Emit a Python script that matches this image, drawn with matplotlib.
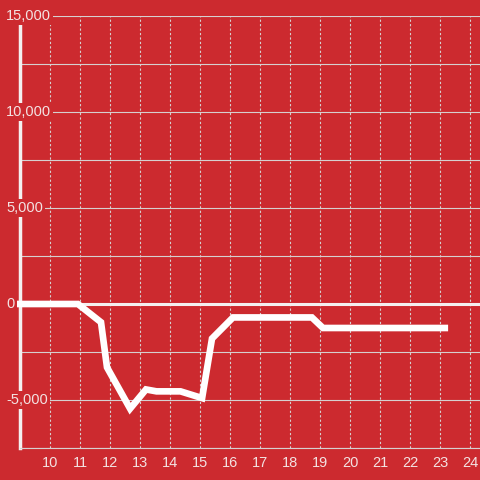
import matplotlib
matplotlib.use("Agg")
import matplotlib.pyplot as plt

# hour of day vs running balance
hours = [8.9, 10.93, 11.7, 11.9, 12.67, 13.2, 13.55, 14.35, 15.07, 15.4, 16.1, 18.73, 19.1, 23.27]
balance = [0, 0, -950, -3300, -5450, -4450, -4550, -4550, -4900, -1800, -700, -700, -1250, -1250]

x_ticks = list(range(10, 25))
y_ticks = [-5000, 0, 5000, 10000, 15000]
y_grid = [-7500, -5000, -2500, 0, 2500, 5000, 7500, 10000, 12500, 15000]

bg = "#cc2a2f"
txt = "#f3e2e2"
grid_c = "#d6d0d0"

plt.rcParams["font.family"] = ["Liberation Sans", "DejaVu Sans"]

fig = plt.figure(figsize=(4.8, 4.8), dpi=100)
fig.patch.set_facecolor(bg)
ax = fig.add_axes([20 / 480, 32 / 480, 460 / 480, 432 / 480])
ax.set_facecolor(bg)

ax.set_xlim(9, 24.333)
ax.set_ylim(-7500, 15000)

ax.set_xticks(x_ticks)
ax.set_xticklabels([str(t) for t in x_ticks])
ax.set_yticks(y_grid)
ax.set_yticklabels([])
ax.tick_params(axis="both", length=0, colors=txt, labelsize=10.5)
ax.tick_params(axis="x", pad=6)

ax.grid(axis="y", color=grid_c, lw=0.8, zorder=1)
ax.grid(axis="x", color=grid_c, lw=0.8, ls=(0, (2, 2)), zorder=1)
ax.set_axisbelow(True)

for s in ["top", "right"]:
    ax.spines[s].set_visible(False)
ax.spines["bottom"].set_color(grid_c)
ax.spines["bottom"].set_linewidth(0.8)
ax.spines["left"].set_color("#f4f0f0")
ax.spines["left"].set_linewidth(2.5)
ax.spines["left"].set_zorder(2)

ax.axhline(0, color="#f4f0f0", lw=2.2, zorder=2)

ax.plot(hours, balance, color="white", lw=4.8, solid_joinstyle="miter",
        solid_capstyle="butt", clip_on=False, zorder=3)

tr = ax.get_yaxis_transform()
for v in y_ticks:
    ax.text(-14 / 460, v, f"{v:,}", transform=tr, ha="left", va="center",
            color=txt, fontsize=10.5, clip_on=False, zorder=5,
            bbox=dict(boxstyle="square,pad=0.15", fc=bg, ec="none"))

fig.savefig("out.png", dpi=100, facecolor=bg)
